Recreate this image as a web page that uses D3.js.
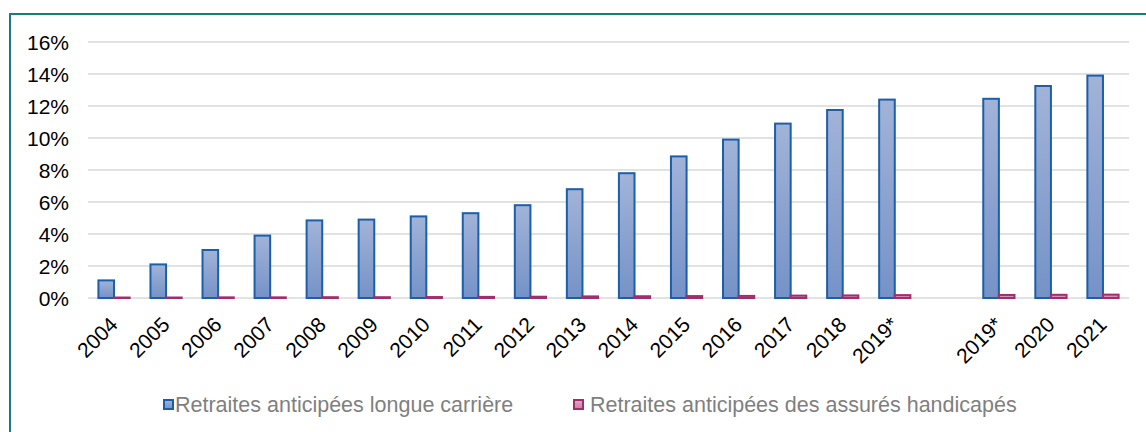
<!DOCTYPE html>
<html>
<head>
<meta charset="utf-8">
<script src="https://cdn.jsdelivr.net/npm/d3@7"></script>
<style>
  html, body { margin: 0; padding: 0; background: #fff; }
  svg { display: block; font-family: "Liberation Sans", Arial, sans-serif; }
</style>
</head>
<body>
<svg id="chart" width="1146" height="432"></svg>
<script>
/** category labels (empty string = gap between the two series of years) */
const categories = ["2004", "2005", "2006", "2007", "2008", "2009", "2010", "2011",
  "2012", "2013", "2014", "2015", "2016", "2017", "2018", "2019*", "", "2019*", "2020", "2021"];

/** share of early retirements, in % */
const longueCarriere = [1.1, 2.1, 3.0, 3.9, 4.85, 4.9, 5.1, 5.3, 5.8, 6.8, 7.8, 8.85,
  9.9, 10.9, 11.75, 12.4, null, 12.45, 13.25, 13.9];
const handicapes = [0.03, 0.03, 0.04, 0.04, 0.05, 0.05, 0.06, 0.07, 0.08, 0.1, 0.11, 0.12,
  0.13, 0.15, 0.16, 0.18, null, 0.19, 0.2, 0.21];

const yTicks = [0, 2, 4, 6, 8, 10, 12, 14, 16];

const seriesNames = ["Retraites anticipées longue carrière", "Retraites anticipées des assurés handicapés"];

const svg = d3.select("#chart");
const margin = { left: 88, right: 1129, top: 42, bottom: 298 };
const fontSize = 21;

/** gradients for bar fills */
const defs = svg.append("defs");
const grad = (id, top, bottom) => {
  const g = defs.append("linearGradient").attr("id", id)
    .attr("x1", 0).attr("y1", 0).attr("x2", 0).attr("y2", 1);
  g.append("stop").attr("offset", "0%").attr("stop-color", top);
  g.append("stop").attr("offset", "100%").attr("stop-color", bottom);
};
grad("gBlue", "#a2b3d8", "#7592c7");
grad("gPink", "#deaac4", "#c77fa3");

const series = [
  { name: seriesNames[0], values: longueCarriere, fill: "url(#gBlue)", stroke: "#1b5fa9" },
  { name: seriesNames[1], values: handicapes, fill: "url(#gPink)", stroke: "#a22d6c" },
];

/** scales */
const x = d3.scaleBand().domain(d3.range(categories.length)).range([margin.left, margin.right]);
const bw = x.bandwidth();
const x1 = d3.scaleBand().domain([0, 1]).range([bw * 0.2, bw * 0.8]);
const y = d3.scaleLinear().domain([0, 16]).range([margin.bottom, margin.top]);

/** frame */
svg.append("path")
  .attr("d", `M10,432 V14 H1146`)
  .attr("fill", "none")
  .attr("stroke", "#177b80")
  .attr("stroke-width", 2);

/** gridlines */
svg.append("g")
  .selectAll("line")
  .data(yTicks)
  .join("line")
  .attr("x1", margin.left)
  .attr("x2", margin.right)
  .attr("y1", (d) => y(d))
  .attr("y2", (d) => y(d))
  .attr("stroke", "#d9d9d9")
  .attr("stroke-width", 1.5);

/** y labels */
svg.append("g")
  .selectAll("text")
  .data(yTicks)
  .join("text")
  .attr("x", 69)
  .attr("y", (d) => y(d))
  .attr("dy", "0.36em")
  .attr("text-anchor", "end")
  .attr("font-size", fontSize)
  .attr("fill", "#000")
  .text((d) => `${d}%`);

/** bars */
series.forEach((s, si) => {
  svg.append("g")
    .selectAll("rect")
    .data(s.values.map((v, i) => ({ v, i })).filter((d) => d.v != null))
    .join("rect")
    .attr("x", (d) => x(d.i) + x1(si))
    .attr("width", x1.bandwidth())
    .attr("y", (d) => y(d.v))
    .attr("height", (d) => y(0) - y(d.v))
    .attr("fill", s.fill)
    .attr("stroke", s.stroke)
    .attr("stroke-width", 2);
});

/** x labels */
svg.append("g")
  .selectAll("text")
  .data(categories.map((c, i) => ({ c, i })).filter((d) => d.c))
  .join("text")
  .attr("transform", (d) => `translate(${x(d.i) + bw / 2 + 5},${y(0) + 28}) rotate(-45)`)
  .attr("text-anchor", "end")
  .attr("font-size", fontSize)
  .attr("fill", "#000")
  .text((d) => d.c);

/** legend */
const legendX = [163, 573];
series.forEach((s, si) => {
  const g = svg.append("g").attr("transform", `translate(${legendX[si]},0)`);
  g.append("rect")
    .attr("x", 1).attr("y", 400).attr("width", 9).attr("height", 9)
    .attr("fill", s.fill).attr("stroke", s.stroke).attr("stroke-width", 2);
  g.append("text")
    .attr("x", 12 + si * 5).attr("y", 412)
    .attr("font-size", 21.5).attr("fill", "#7f7f7f")
    .text(s.name);
});
</script>
</body>
</html>
